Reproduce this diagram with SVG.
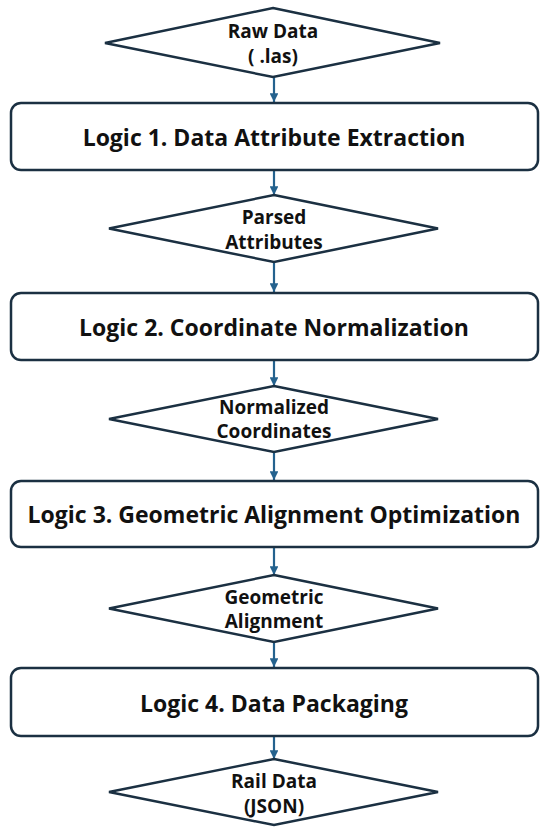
<svg xmlns="http://www.w3.org/2000/svg" width="550" height="839" viewBox="0 0 550 839">
<defs>
<style>
.box{fill:#fff;stroke:#1b3042;stroke-width:2.5}
.dia{fill:#fff;stroke:#1b3042;stroke-width:2.5}
.bt{font-family:"Open Sans","Noto Sans CJK KR",sans-serif;font-weight:bold;font-size:23px;fill:#111;text-anchor:middle;dominant-baseline:central}
.dt{font-family:"Open Sans","Noto Sans CJK KR",sans-serif;font-weight:bold;font-size:19px;fill:#111;text-anchor:middle;dominant-baseline:central}
.arr{stroke:#24628e;stroke-width:2.2;fill:none;marker-end:url(#ah)}
</style>
<marker id="ah" viewBox="0 0 10 10" refX="10" refY="5" markerWidth="4" markerHeight="4" markerUnits="strokeWidth" orient="auto">
<path d="M0,0 L10,5 L0,10 z" fill="#24628e"/>
</marker>
</defs>
<rect width="550" height="839" fill="#fff"/>
<g id="connectors">
<line class="arr" x1="274" y1="77" x2="274" y2="102"/>
<line class="arr" x1="274" y1="170" x2="274" y2="195"/>
<line class="arr" x1="274" y1="262" x2="274" y2="292"/>
<line class="arr" x1="274" y1="360" x2="274" y2="386"/>
<line class="arr" x1="274" y1="452" x2="274" y2="480"/>
<line class="arr" x1="274" y1="547" x2="274" y2="575"/>
<line class="arr" x1="274" y1="642" x2="274" y2="667"/>
<line class="arr" x1="274" y1="736" x2="274" y2="759"/>
</g>
<g id="raw-data">
<polygon class="dia" points="273,8 440,43 273,77 105,43"/>
<text class="dt" x="273" y="31">Raw Data</text>
<text class="dt" x="273" y="56">( .las)</text>
</g>
<g id="logic1">
<rect class="box" x="11" y="103" width="527" height="67" rx="10"/>
<text class="bt" x="274" y="137">Logic 1. Data Attribute Extraction</text>
</g>
<g id="parsed-attributes">
<polygon class="dia" points="274,195 438,228.5 274,262 109,228.5"/>
<text class="dt" x="274" y="217">Parsed</text>
<text class="dt" x="274" y="242">Attributes</text>
</g>
<g id="logic2">
<rect class="box" x="11" y="293" width="527" height="67" rx="10"/>
<text class="bt" x="274" y="327">Logic 2. Coordinate Normalization</text>
</g>
<g id="normalized-coordinates">
<polygon class="dia" points="274,386 438,419 274,452 109,419"/>
<text class="dt" x="274" y="407">Normalized</text>
<text class="dt" x="274" y="431">Coordinates</text>
</g>
<g id="logic3">
<rect class="box" x="11" y="481" width="527" height="66" rx="10"/>
<text class="bt" x="274" y="514">Logic 3. Geometric Alignment Optimization</text>
</g>
<g id="geometric-alignment">
<polygon class="dia" points="274,575 438,608.5 274,642 109,608.5"/>
<text class="dt" x="274" y="597">Geometric</text>
<text class="dt" x="274" y="621">Alignment</text>
</g>
<g id="logic4">
<rect class="box" x="11" y="668" width="527" height="68" rx="10"/>
<text class="bt" x="274" y="703">Logic 4. Data Packaging</text>
</g>
<g id="rail-data">
<polygon class="dia" points="274,759 438,792 274,825 109,792"/>
<text class="dt" x="274" y="781">Rail Data</text>
<text class="dt" x="274" y="806">(JSON)</text>
</g>
</svg>
